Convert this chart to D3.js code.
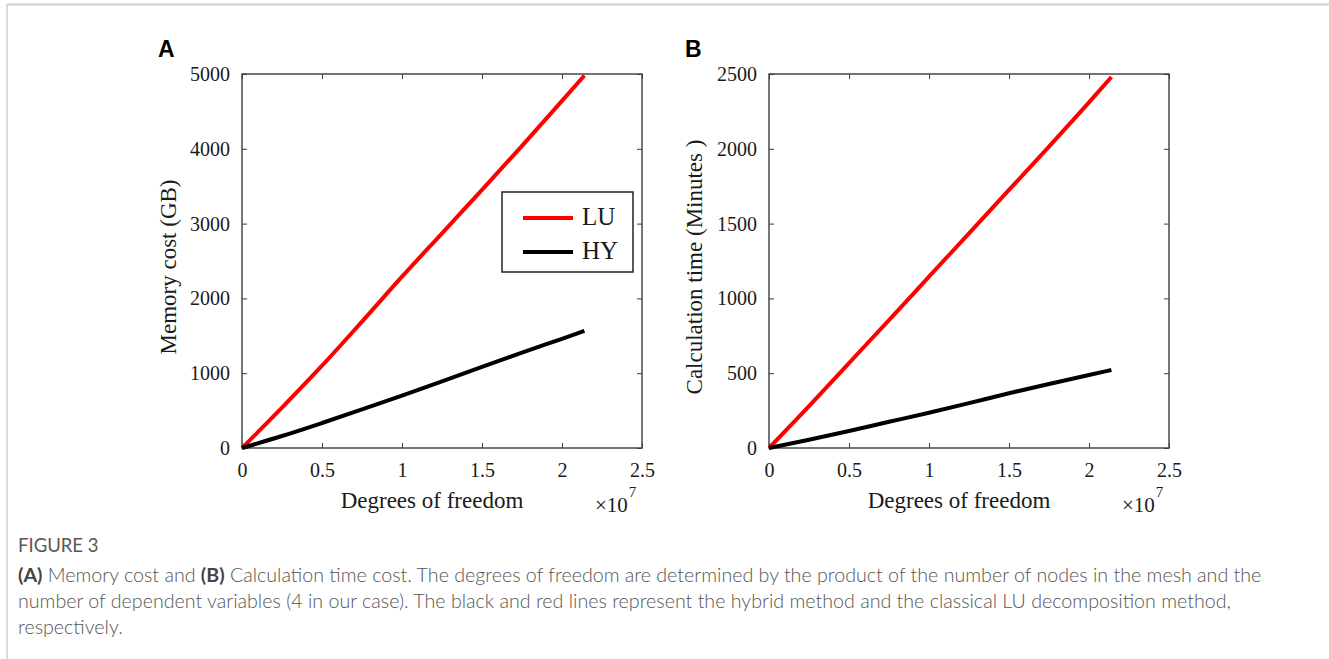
<!DOCTYPE html>
<html>
<head>
<meta charset="utf-8">
<script src="https://cdn.jsdelivr.net/npm/d3@7"></script>
<style>
  html, body { margin: 0; padding: 0; background: #fff; }
  svg { display: block; }
</style>
</head>
<body>
<svg id="fig" width="1329" height="659"></svg>
<script>
// Degrees of freedom (in units of 1e7)
const dof = [0, 0.25, 0.5, 0.75, 1.0, 1.25, 1.5, 1.75, 2.0, 2.14];
// Panel A: memory cost (GB)
const memoryLU = [0, 540, 1100, 1690, 2290, 2870, 3450, 4040, 4640, 4980];
const memoryHY = [0, 160, 334, 515, 700, 890, 1085, 1275, 1460, 1565];
// Panel B: calculation time (minutes)
const timeLU = [0, 280, 568, 855, 1145, 1435, 1725, 2015, 2310, 2480];
const timeHY = [0, 55, 114, 175, 236, 300, 366, 428, 488, 521];

const xTicks = [0, 0.5, 1, 1.5, 2, 2.5];
const yTicksA = [0, 1000, 2000, 3000, 4000, 5000];
const yTicksB = [0, 500, 1000, 1500, 2000, 2500];
const seriesNames = ["LU", "HY"];
const seriesColors = ["#ff0000", "#000000"];

const svg = d3.select("#fig");
const serif = "'Liberation Serif', 'Times New Roman', serif";
const sans = "'Liberation Sans', Arial, sans-serif";
const axisColor = "#3c3c3c";

// page frame
svg.append("line").attr("x1", 7).attr("x2", 1329).attr("y1", 4.5).attr("y2", 4.5)
  .attr("stroke", "#cfcfcf").attr("stroke-width", 2);
svg.append("line").attr("x1", 7).attr("x2", 7).attr("y1", 4).attr("y2", 659)
  .attr("stroke", "#cfcfcf").attr("stroke-width", 1.5);

function panel(opts) {
  const { left, right, top, bottom, yMax, yTicks, lu, hy, yLabel, letter, legend, yLabelX } = opts;
  const x = d3.scaleLinear().domain([0, 2.5]).range([left, right]);
  const y = d3.scaleLinear().domain([0, yMax]).range([bottom, top]);
  const g = svg.append("g");

  const styleAxis = sel => {
    sel.select(".domain").remove();
    sel.selectAll(".tick line").attr("stroke", axisColor).attr("stroke-width", 1);
    sel.selectAll("text").attr("font-family", serif).attr("font-size", 20).attr("fill", "#1a1a1a");
  };

  g.append("g").attr("transform", `translate(0,${bottom})`)
    .call(d3.axisBottom(x).tickValues(xTicks).tickSize(-5).tickPadding(15).tickFormat(d3.format("")))
    .call(styleAxis);
  g.append("g").attr("transform", `translate(0,${top})`)
    .call(d3.axisTop(x).tickValues(xTicks).tickSize(-5).tickFormat(""))
    .call(styleAxis);
  g.append("g").attr("transform", `translate(${left},0)`)
    .call(d3.axisLeft(y).tickValues(yTicks).tickSize(-5).tickPadding(12).tickFormat(d3.format("")))
    .call(styleAxis);
  g.append("g").attr("transform", `translate(${right},0)`)
    .call(d3.axisRight(y).tickValues(yTicks).tickSize(-5).tickFormat(""))
    .call(styleAxis);

  // box
  g.append("rect").attr("x", left).attr("y", top)
    .attr("width", right - left).attr("height", bottom - top)
    .attr("fill", "none").attr("stroke", axisColor).attr("stroke-width", 1.4);

  const line = d3.line().x((d, i) => x(dof[i])).y(d => y(d)).curve(d3.curveMonotoneX);
  [lu, hy].forEach((vals, k) => {
    g.append("path").datum(vals).attr("d", line)
      .attr("fill", "none").attr("stroke", seriesColors[k])
      .attr("stroke-width", 4).attr("stroke-linejoin", "round");
  });

  // axis titles
  g.append("text").attr("x", (left + right) / 2 - 10).attr("y", 508)
    .attr("text-anchor", "middle").attr("font-family", serif).attr("font-size", 23)
    .attr("fill", "#1a1a1a").text("Degrees of freedom");
  const ex = g.append("text").attr("x", right - 47).attr("y", 512)
    .attr("font-family", serif).attr("font-size", 21).attr("fill", "#1a1a1a");
  ex.append("tspan").text("\u00d710");
  ex.append("tspan").attr("font-size", 15).attr("dy", -15).attr("dx", 1).text("7");

  g.append("text")
    .attr("transform", `translate(${yLabelX},${(top + bottom) / 2 + 6}) rotate(-90)`)
    .attr("text-anchor", "middle").attr("font-family", serif).attr("font-size", 23)
    .attr("fill", "#1a1a1a").text(yLabel);

  // panel letter
  g.append("text").attr("x", left - 84).attr("y", 57)
    .attr("font-family", sans).attr("font-weight", "bold").attr("font-size", 23)
    .attr("fill", "#000").text(letter);

  if (legend) {
    const lg = g.append("g");
    lg.append("rect").attr("x", 502).attr("y", 192).attr("width", 131).attr("height", 80)
      .attr("fill", "#fff").attr("stroke", "#222").attr("stroke-width", 1.5);
    seriesNames.forEach((name, k) => {
      const ly = 218 + k * 34;
      lg.append("line").attr("x1", 523).attr("x2", 573).attr("y1", ly).attr("y2", ly)
        .attr("stroke", seriesColors[k]).attr("stroke-width", 4);
      lg.append("text").attr("x", 582).attr("y", ly + 7)
        .attr("font-family", serif).attr("font-size", 25).attr("fill", "#1a1a1a").text(name);
    });
  }
}

panel({ left: 242, right: 642, top: 74, bottom: 448, yMax: 5000, yTicks: yTicksA,
  lu: memoryLU, hy: memoryHY, yLabel: "Memory cost (GB)", letter: "A", legend: true, yLabelX: 176 });
panel({ left: 769, right: 1169, top: 74, bottom: 448, yMax: 2500, yTicks: yTicksB,
  lu: timeLU, hy: timeHY, yLabel: "Calculation time (Minutes )", letter: "B", legend: false, yLabelX: 702 });

// caption
const capFont = "Lato, 'Open Sans', sans-serif";
const cap = svg.append("g").attr("font-family", capFont);
cap.append("text").attr("x", 18).attr("y", 552).attr("font-size", 18.5)
  .attr("font-weight", 400).attr("fill", "#585858").text("FIGURE 3");

const captionLines = [
  [["(A)", true], [" Memory cost and ", false], ["(B)", true],
   [" Calculation time cost. The degrees of freedom are determined by the product of the number of nodes in the mesh and the", false]],
  [["number of dependent variables (4 in our case). The black and red lines represent the hybrid method and the classical LU decomposition method,", false]],
  [["respectively.", false]]
];
const lineNodes = captionLines.map((parts, i) => {
  const t = cap.append("text").attr("x", 18).attr("y", 582 + i * 26)
    .attr("font-size", 16).attr("font-weight", 300).attr("fill", "#555");
  parts.forEach(([s, b]) => {
    const ts = t.append("tspan").text(s);
    if (b) ts.attr("font-weight", "bold").attr("fill", "#444");
  });
  return t;
});
// size the caption so the first line spans the text column
const w0 = lineNodes[0].node().getComputedTextLength();
const fs = 16 * 1244 / w0;
lineNodes.forEach(t => t.attr("font-size", fs));
</script>
</body>
</html>
